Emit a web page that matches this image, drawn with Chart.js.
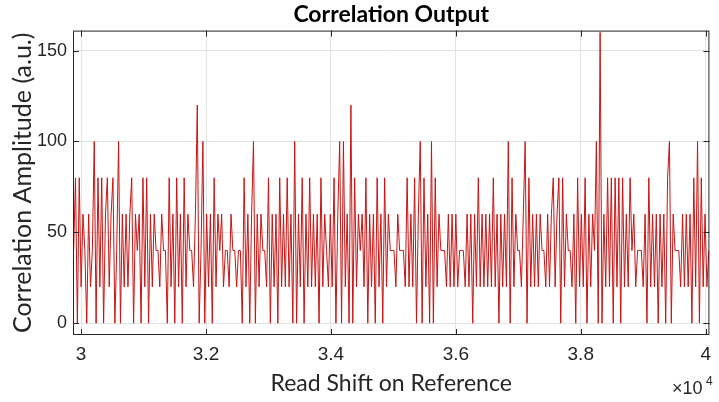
<!DOCTYPE html>
<html>
<head>
<meta charset="utf-8">
<script src="https://cdn.jsdelivr.net/npm/chart.js@4/dist/chart.umd.min.js"></script>
<style>
  html, body { margin: 0; padding: 0; background: #fff; }
  #wrap { width: 719px; height: 402px; }
</style>
</head>
<body>
<div id="wrap"><canvas id="chart" width="719" height="402"></canvas></div>
<script>
// read shift samples: first shift and spacing between samples
const shiftStart = 29880;
const shiftStep = 30;

// correlation amplitude, one value per sample
const amplitude = [
  40, 80, 0, 80, 20, 60, 40, 0, 60, 20, 40, 100, 0, 80, 20, 80, 0, 60, 80, 20,
  60, 80, 0, 40, 100, 0, 60, 20, 60, 20, 60, 80, 0, 60, 40, 60, 0, 80, 20, 80,
  0, 60, 20, 60, 40, 40, 20, 60, 40, 40, 0, 80, 20, 60, 0, 80, 20, 60, 0, 80,
  20, 60, 40, 40, 20, 60, 120, 0, 40, 100, 0, 60, 20, 60, 0, 80, 20, 60, 40, 60,
  20, 40, 40, 20, 60, 40, 40, 20, 40, 40, 0, 80, 20, 60, 0, 60, 100, 0, 60, 20,
  60, 40, 40, 20, 80, 0, 60, 20, 60, 0, 80, 20, 60, 20, 80, 20, 60, 0, 100, 0,
  60, 20, 80, 0, 60, 20, 80, 20, 60, 20, 60, 0, 80, 20, 60, 40, 20, 60, 20, 80,
  0, 60, 100, 0, 100, 20, 60, 0, 120, 0, 80, 20, 60, 40, 60, 20, 80, 0, 60, 20,
  60, 0, 80, 20, 60, 0, 80, 20, 60, 40, 40, 40, 20, 60, 40, 40, 40, 20, 80, 20,
  60, 20, 80, 0, 60, 100, 0, 80, 20, 60, 0, 100, 0, 80, 20, 60, 40, 40, 40, 20,
  60, 20, 60, 20, 60, 20, 40, 40, 40, 20, 60, 20, 60, 0, 60, 20, 80, 20, 60, 20,
  60, 20, 60, 20, 80, 20, 60, 0, 60, 20, 60, 20, 100, 0, 80, 20, 60, 40, 40, 20,
  60, 100, 0, 80, 20, 60, 20, 60, 20, 60, 40, 40, 20, 60, 20, 60, 80, 20, 60, 80,
  0, 80, 20, 60, 40, 40, 20, 60, 0, 80, 20, 60, 20, 80, 0, 60, 20, 60, 40, 100,
  0, 160, 0, 60, 20, 80, 20, 80, 0, 80, 20, 80, 0, 80, 20, 60, 20, 80, 40, 60,
  20, 40, 40, 40, 20, 60, 0, 80, 20, 60, 20, 60, 0, 60, 20, 60, 0, 80, 100, 0,
  60, 40, 40, 40, 20, 60, 20, 60, 20, 60, 0, 80, 20, 100, 0, 80, 20, 60, 20, 40
];

const xTicks = [30000, 32000, 34000, 36000, 38000, 40000];
const yTicks = [0, 50, 100, 150];

const points = amplitude.map((v, i) => ({ x: shiftStart + i * shiftStep, y: v }));

// MATLAB style box round the axes plus the x10^4 exponent label
const boxPlugin = {
  id: 'box',
  afterDraw(chart) {
    const { ctx, chartArea: a } = chart;
    ctx.save();
    ctx.strokeStyle = '#262626';
    ctx.lineWidth = 1;
    ctx.strokeRect(a.left + 0.5, a.top + 0.5, a.right - a.left - 1, a.bottom - a.top - 1);

    // small inward tick marks
    const xs = chart.scales.x, ys = chart.scales.y;
    ctx.beginPath();
    xTicks.forEach(t => {
      const px = Math.round(xs.getPixelForValue(t)) + 0.5;
      ctx.moveTo(px, a.bottom); ctx.lineTo(px, a.bottom - 6);
      ctx.moveTo(px, a.top); ctx.lineTo(px, a.top + 6);
    });
    yTicks.forEach(t => {
      const py = Math.round(ys.getPixelForValue(t)) + 0.5;
      ctx.moveTo(a.left, py); ctx.lineTo(a.left + 6, py);
      ctx.moveTo(a.right, py); ctx.lineTo(a.right - 6, py);
    });
    ctx.stroke();

    ctx.fillStyle = '#262626';
    ctx.textBaseline = 'alphabetic';
    ctx.textAlign = 'left';
    ctx.font = '18px "Liberation Sans"';
    ctx.fillText('\u00d710', 672, 394);
    ctx.font = '12px "Liberation Sans"';
    ctx.fillText('4', 706, 385);
    ctx.restore();
  }
};

new Chart(document.getElementById('chart'), {
  type: 'line',
  data: {
    datasets: [{
      data: points,
      borderColor: 'rgb(200, 20, 20)',
      borderWidth: 1,
      pointRadius: 0,
      tension: 0,
      fill: false
    }]
  },
  options: {
    responsive: false,
    animation: false,
    layout: { padding: { left: 0, right: 7, top: 0, bottom: 0 } },
    plugins: {
      legend: { display: false },
      tooltip: { enabled: false },
      title: {
        display: true,
        fullSize: false,
        text: 'Correlation Output',
        color: '#000',
        font: { family: 'Lato', size: 23, weight: 'bold' },
        padding: { top: 1, bottom: 2 }
      }
    },
    scales: {
      x: {
        type: 'linear',
        min: 29870,
        max: 40060,
        afterBuildTicks: s => { s.ticks = xTicks.map(v => ({ value: v })); },
        afterFit: s => { s.height = 67; },
        grid: { color: '#e3e3e3', drawTicks: false },
        border: { display: false },
        ticks: {
          padding: 8,
          color: '#262626',
          font: { family: 'Liberation Sans', size: 19 },
          callback: v => String(v / 10000)
        },
        title: {
          display: true,
          text: 'Read Shift on Reference',
          color: '#262626',
          font: { family: 'Lato', size: 23 },
          padding: { top: 0, bottom: 5 }
        }
      },
      y: {
        min: -6.5,
        max: 161,
        afterBuildTicks: s => { s.ticks = yTicks.map(v => ({ value: v })); },
        afterFit: s => { s.width = 73; },
        grid: { color: '#e3e3e3', drawTicks: false },
        border: { display: false },
        ticks: {
          padding: 6,
          color: '#262626',
          font: { family: 'Liberation Sans', size: 18 }
        },
        title: {
          display: true,
          text: 'Correlation Amplitude (a.u.)',
          color: '#262626',
          font: { family: 'Lato', size: 25 },
          padding: { top: 8, bottom: 0 }
        }
      }
    }
  },
  plugins: [boxPlugin]
});
</script>
</body>
</html>
